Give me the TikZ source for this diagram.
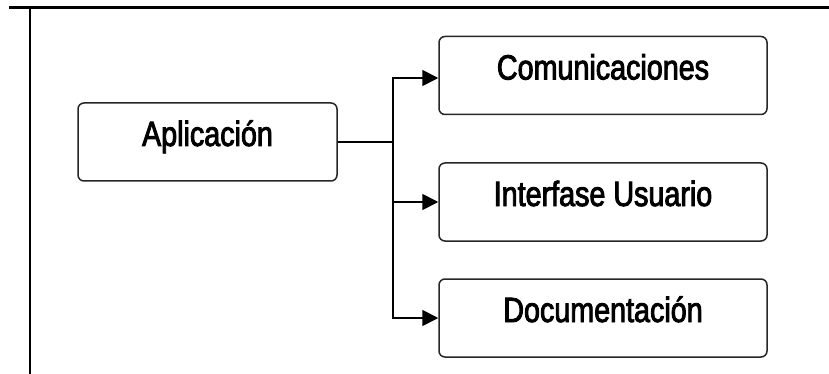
\documentclass[tikz,border=0pt]{standalone}
\usepackage{fontspec}
\usetikzlibrary{arrows.meta}
\newfontfamily\boxfont[FakeStretch=0.82,FakeBold=2.5]{Liberation Sans}
\begin{document}
\begin{tikzpicture}[x=1pt,y=-1pt,
  blockbox/.style={draw=black!85,line width=1.5pt,rounded corners=6pt,
    inner sep=0pt,minimum width=328pt,minimum height=78pt,
    text height=43pt,text depth=35pt,align=center,
    font=\boxfont\fontsize{35}{38}\selectfont},
  link/.style={draw=black,line width=1.8pt},
  arrowlink/.style={link,-{Triangle[length=16pt,width=16pt]}},
  frame/.style={draw=black,line cap=butt}]
\useasboundingbox (0,0) rectangle (829,374);
\fill[white] (0,0) rectangle (829,374);

% page frame: rule on top, rule on the left
\draw[frame,line width=2.5pt] (9,7.5) -- (829,7.5);
\draw[frame,line width=2pt] (30,7.5) -- (30,374);

% blocks
\node[blockbox,minimum width=259pt] (app) at (207.5,142) {Aplicación};
\node[blockbox] (com) at (603,75.5) {Comunicaciones};
\node[blockbox] (ui)  at (603,202) {Interfase Usuario};
\node[blockbox] (doc) at (603,318) {Documentación};

% branch point
\coordinate (split) at (393,142);

\draw[link] (app.east) -- (split);
\draw[arrowlink] (split) |- ([yshift=-2.5pt]com.west);
\draw[arrowlink] (split) |- (ui.west);
\draw[arrowlink] (split) |- (doc.west);
\end{tikzpicture}
\end{document}
